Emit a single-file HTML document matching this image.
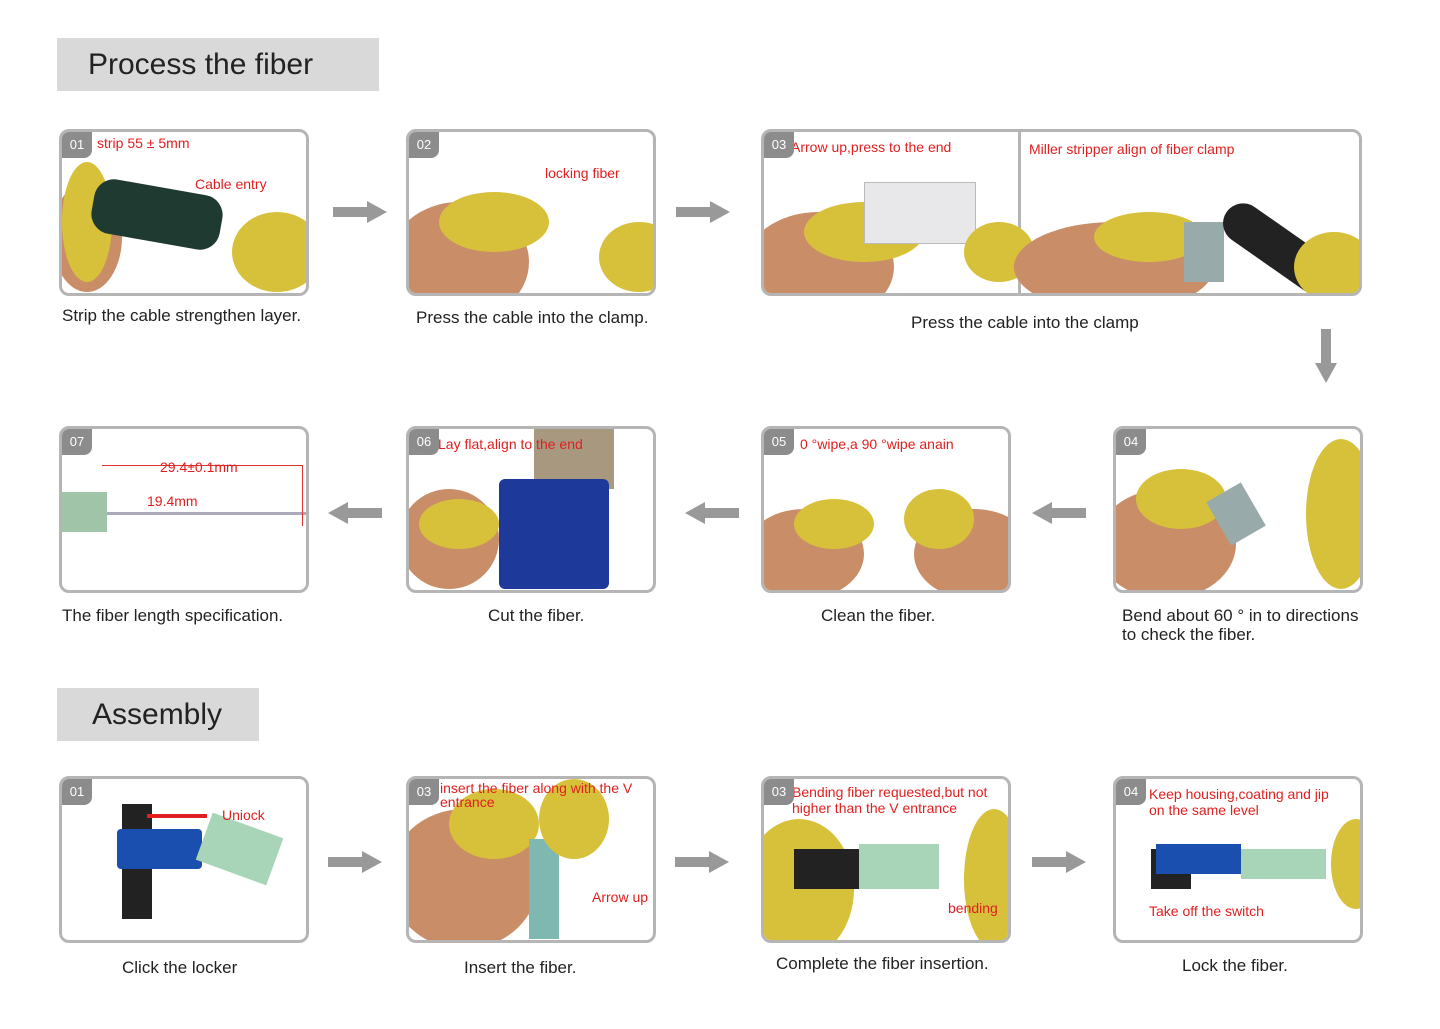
<!DOCTYPE html>
<html><head><meta charset="utf-8"><style>
body{margin:0;width:1440px;height:1029px;background:#fff;position:relative;overflow:hidden;font-family:"Liberation Sans",sans-serif}
.hdr{position:absolute;background:#d9d9d9;color:#222;font-size:30px;padding-left:31px;line-height:54px}
.p{position:absolute;width:245px;height:162px;border:3px solid #b5b5b5;border-radius:10px;background:#fff;overflow:hidden;box-sizing:border-box}
.n{position:absolute;left:0;top:0;width:30px;height:26px;background:#8c8c8c;color:#fff;font-size:13px;text-align:center;line-height:26px;border-bottom-right-radius:8px;z-index:3}
.r{position:absolute;color:#e02020;font-size:14px;z-index:2;line-height:15px}
.c{position:absolute;color:#222;font-size:17px;line-height:19px}
.b{position:absolute;border-radius:50%;background:#d8c13a}
.s{position:absolute;border-radius:50%;background:#c98d68}
.ar{position:absolute}
</style></head><body>
<div class="hdr" style="left:57px;top:38px;width:291px;height:53px">Process the fiber</div>
<div class="hdr" style="left:57px;top:688px;height:53px;padding-left:35px;width:167px">Assembly</div>

<!-- row1 -->
<div class="p" style="left:59px;top:129px;width:250px;height:167px"><div class="n">01</div>
<div class="s" style="left:-10px;top:50px;width:70px;height:110px"></div><div class="b" style="left:0;top:30px;width:50px;height:120px"></div>
<div style="position:absolute;left:30px;top:55px;width:130px;height:55px;background:#1f3a30;border-radius:20px;transform:rotate(10deg)"></div>
<div class="b" style="left:170px;top:80px;width:90px;height:80px"></div></div>
<div class="r" style="left:97px;top:136px">strip 55 ± 5mm</div>
<div class="r" style="left:195px;top:177px">Cable entry</div>
<div class="c" style="left:62px;top:306px">Strip the cable strengthen layer.</div>

<div class="p" style="left:406px;top:129px;width:250px;height:167px"><div class="n">02</div>
<div class="s" style="left:-20px;top:70px;width:140px;height:120px"></div><div class="b" style="left:30px;top:60px;width:110px;height:60px"></div>
<div class="b" style="left:190px;top:90px;width:80px;height:70px"></div></div>
<div class="r" style="left:545px;top:166px">locking fiber</div>
<div class="c" style="left:416px;top:308px">Press the cable into the clamp.</div>

<div class="p" style="left:761px;top:129px;width:601px;height:167px"><div class="n">03</div>
<div style="position:absolute;left:254px;top:0;width:3px;height:167px;background:#b5b5b5"></div>
<div class="s" style="left:-20px;top:80px;width:150px;height:110px"></div><div class="b" style="left:40px;top:70px;width:120px;height:60px"></div>
<div style="position:absolute;left:100px;top:50px;width:110px;height:60px;background:#e8e8ea;border:1px solid #bbb"></div>
<div class="b" style="left:200px;top:90px;width:70px;height:60px"></div>
<div class="s" style="left:250px;top:90px;width:200px;height:90px"></div><div class="b" style="left:330px;top:80px;width:110px;height:50px"></div>
<div style="position:absolute;left:420px;top:90px;width:40px;height:60px;background:#9aa"></div>
<div style="position:absolute;left:450px;top:100px;width:140px;height:40px;background:#222;transform:rotate(35deg);border-radius:20px"></div>
<div class="b" style="left:530px;top:100px;width:80px;height:70px"></div></div>
<div class="r" style="left:791px;top:140px">Arrow up,press to the end</div>
<div class="r" style="left:1029px;top:142px">Miller stripper align of fiber clamp</div>
<div class="c" style="left:911px;top:313px">Press the cable into the clamp</div>

<svg class="ar" style="left:333px;top:201px" width="54" height="22"><polygon points="0,6 34,6 34,0 54,11 34,22 34,16 0,16" fill="#999"/></svg>
<svg class="ar" style="left:676px;top:201px" width="54" height="22"><polygon points="0,6 34,6 34,0 54,11 34,22 34,16 0,16" fill="#999"/></svg>
<svg class="ar" style="left:1315px;top:329px" width="22" height="54"><polygon points="6,0 16,0 16,34 22,34 11,54 0,34 6,34" fill="#999"/></svg>

<!-- row2 -->
<div class="p" style="left:59px;top:426px;width:250px;height:167px"><div class="n">07</div>
<div style="position:absolute;left:0;top:63px;width:45px;height:40px;background:#9fc4a8"></div>
<div style="position:absolute;left:45px;top:83px;width:200px;height:3px;background:#aab"></div>
<div style="position:absolute;left:40px;top:36px;width:200px;height:60px;border-top:1px solid #e03030;border-right:1px solid #e03030"></div></div>
<div class="r" style="left:160px;top:460px">29.4±0.1mm</div>
<div class="r" style="left:147px;top:494px">19.4mm</div>
<div class="c" style="left:62px;top:606px">The fiber length specification.</div>

<div class="p" style="left:406px;top:426px;width:250px;height:167px"><div class="n">06</div>
<div style="position:absolute;left:125px;top:0;width:80px;height:60px;background:#a89880"></div>
<div style="position:absolute;left:90px;top:50px;width:110px;height:110px;background:#1d3a9a;border-radius:6px"></div>
<div class="s" style="left:-10px;top:60px;width:100px;height:100px"></div><div class="b" style="left:10px;top:70px;width:80px;height:50px"></div></div>
<div class="r" style="left:438px;top:437px">Lay flat,align to the end</div>
<div class="c" style="left:488px;top:606px">Cut the fiber.</div>

<div class="p" style="left:761px;top:426px;width:250px;height:167px"><div class="n">05</div>
<div class="s" style="left:-20px;top:80px;width:120px;height:90px"></div><div class="b" style="left:30px;top:70px;width:80px;height:50px"></div>
<div class="s" style="left:150px;top:80px;width:120px;height:90px"></div><div class="b" style="left:140px;top:60px;width:70px;height:60px"></div></div>
<div class="r" style="left:800px;top:437px">0 °wipe,a 90 °wipe anain</div>
<div class="c" style="left:821px;top:606px">Clean the fiber.</div>

<div class="p" style="left:1113px;top:426px;width:250px;height:167px"><div class="n">04</div>
<div class="s" style="left:-20px;top:60px;width:140px;height:110px"></div><div class="b" style="left:20px;top:40px;width:90px;height:60px"></div>
<div style="position:absolute;left:100px;top:60px;width:40px;height:50px;background:#9aa;transform:rotate(-30deg)"></div>
<div class="b" style="left:190px;top:10px;width:70px;height:150px"></div></div>
<div class="c" style="left:1122px;top:606px">Bend about 60 ° in to directions<br>to check the fiber.</div>

<svg class="ar" style="left:328px;top:502px" width="54" height="22"><polygon points="54,6 20,6 20,0 0,11 20,22 20,16 54,16" fill="#999"/></svg>
<svg class="ar" style="left:685px;top:502px" width="54" height="22"><polygon points="54,6 20,6 20,0 0,11 20,22 20,16 54,16" fill="#999"/></svg>
<svg class="ar" style="left:1032px;top:502px" width="54" height="22"><polygon points="54,6 20,6 20,0 0,11 20,22 20,16 54,16" fill="#999"/></svg>

<!-- row3 -->
<div class="p" style="left:59px;top:776px;width:250px;height:167px"><div class="n">01</div>
<div style="position:absolute;left:60px;top:25px;width:30px;height:115px;background:#222"></div>
<div style="position:absolute;left:55px;top:50px;width:85px;height:40px;background:#1a4fb0;border-radius:4px"></div>
<div style="position:absolute;left:140px;top:45px;width:75px;height:50px;background:#a8d4b8;transform:rotate(20deg)"></div>
<div style="position:absolute;left:85px;top:35px;width:60px;height:4px;background:#e02020"></div></div>
<div class="r" style="left:222px;top:808px">Uniock</div>
<div class="c" style="left:122px;top:958px">Click the locker</div>

<div class="p" style="left:406px;top:776px;width:250px;height:167px"><div class="n">03</div>
<div class="s" style="left:-20px;top:30px;width:150px;height:140px"></div><div class="b" style="left:40px;top:10px;width:90px;height:70px"></div>
<div style="position:absolute;left:120px;top:60px;width:30px;height:100px;background:#7fb8b0"></div>
<div class="b" style="left:130px;top:0;width:70px;height:80px"></div></div>
<div class="r" style="left:440px;top:781px;line-height:14px">insert the fiber along with the V<br>entrance</div>
<div class="r" style="left:592px;top:890px">Arrow up</div>
<div class="c" style="left:464px;top:958px">Insert the fiber.</div>

<div class="p" style="left:761px;top:776px;width:250px;height:167px"><div class="n">03</div>
<div class="b" style="left:-20px;top:40px;width:110px;height:140px"></div>
<div style="position:absolute;left:30px;top:70px;width:70px;height:40px;background:#222"></div>
<div style="position:absolute;left:95px;top:65px;width:80px;height:45px;background:#a8d4b8"></div>
<div class="b" style="left:200px;top:30px;width:60px;height:140px"></div></div>
<div class="r" style="left:792px;top:784px;line-height:16px">Bending fiber requested,but not<br>higher than the V entrance</div>
<div class="r" style="left:948px;top:901px">bending</div>
<div class="c" style="left:776px;top:954px">Complete the fiber insertion.</div>

<div class="p" style="left:1113px;top:776px;width:250px;height:167px"><div class="n">04</div>
<div style="position:absolute;left:35px;top:70px;width:40px;height:40px;background:#222"></div>
<div style="position:absolute;left:40px;top:65px;width:85px;height:30px;background:#1a4fb0"></div>
<div style="position:absolute;left:125px;top:70px;width:85px;height:30px;background:#a8d4b8"></div>
<div class="b" style="left:215px;top:40px;width:50px;height:90px"></div></div>
<div class="r" style="left:1149px;top:786px;line-height:16px">Keep housing,coating and jip<br>on the same level</div>
<div class="r" style="left:1149px;top:904px">Take off the switch</div>
<div class="c" style="left:1182px;top:956px">Lock the fiber.</div>

<svg class="ar" style="left:328px;top:851px" width="54" height="22"><polygon points="0,6 34,6 34,0 54,11 34,22 34,16 0,16" fill="#999"/></svg>
<svg class="ar" style="left:675px;top:851px" width="54" height="22"><polygon points="0,6 34,6 34,0 54,11 34,22 34,16 0,16" fill="#999"/></svg>
<svg class="ar" style="left:1032px;top:851px" width="54" height="22"><polygon points="0,6 34,6 34,0 54,11 34,22 34,16 0,16" fill="#999"/></svg>
</body></html>
